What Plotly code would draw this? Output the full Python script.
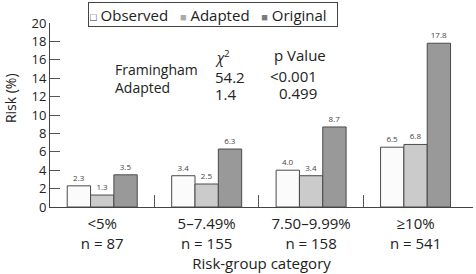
import plotly.graph_objects as go

categories = ["<5%<br>n = 87", "5–7.49%<br>n = 155", "7.50–9.99%<br>n = 158", "≥10%<br>n = 541"]
observed = [2.3, 3.4, 4.0, 6.5]
adapted = [1.3, 2.5, 3.4, 6.8]
original = [3.5, 6.3, 8.7, 17.8]

stat_rows = ["Framingham", "Adapted"]
chi2_vals = ["54.2", "1.4"]
p_vals = ["<0.001", "0.499"]

FONT = "Open Sans"
TXT = "#222222"
OUTLINE = "#4a4a4a"

series = [("Observed", observed, "#fbfbfb", "#333333", "□"),
          ("Adapted", adapted, "#cbcbcb", "#aaaaaa", "■"),
          ("Original", original, "#999999", "#7a7a7a", "■")]

fig = go.Figure()
for name, vals, col, _, _ in series:
    fig.add_trace(go.Bar(
        x=categories, y=vals, name=name,
        marker=dict(color=col, line=dict(color=OUTLINE, width=1)),
        text=[f"{v:.1f}" for v in vals], textposition="outside",
        textfont=dict(size=8, color="#444444", family=FONT),
        cliponaxis=False, showlegend=False,
    ))

# invisible trace to carry the boundary-tick axis
fig.add_trace(go.Scatter(x=[0], y=[0], xaxis="x2", mode="markers",
                         marker=dict(opacity=0), showlegend=False, hoverinfo="skip"))

xr = [-0.5, 3.55]
fig.update_layout(
    width=476, height=274,
    margin=dict(l=50, r=3, t=23, b=67, autoexpand=False),
    paper_bgcolor="white", plot_bgcolor="white",
    font=dict(family=FONT, color=TXT),
    barmode="group", bargap=0.33, bargroupgap=0,
    hovermode=False,
    xaxis=dict(type="category", range=xr, ticks="", showline=True, linecolor="#444444",
               linewidth=1, tickfont=dict(size=15, color=TXT), showgrid=False, automargin=False,
               ticklabelstandoff=3,
               title=dict(text="Risk-group category", font=dict(size=15, color=TXT), standoff=2)),
    xaxis2=dict(overlaying="x", range=xr, tickvals=[0.5, 1.5, 2.5, 3.55], ticks="inside",
                ticklen=12, tickcolor="#555555", showticklabels=False, showgrid=False,
                zeroline=False, showline=False, side="bottom", anchor="y", automargin=False),
    yaxis=dict(range=[0, 20], dtick=2, ticks="inside", ticklen=10, tickcolor="#555555",
               showline=True, linecolor="#444444", linewidth=1, showgrid=False, zeroline=False,
               tickfont=dict(size=13, color=TXT), automargin=False),
)

# legend box (drawn as a bordered annotation)
NB = "\u00a0"
parts = []
for name, _, _, glyph_col, glyph in series:
    parts.append(f"<span style='font-size:11px;color:{glyph_col}'>{glyph}</span>{NB}{name}")
legend_text = (NB * 3).join(parts)
fig.add_annotation(text=legend_text, xref="paper", yref="paper", x=0.09, y=1.114,
                   xanchor="left", yanchor="top", align="left", showarrow=False,
                   width=246, height=21, valign="middle",
                   bordercolor="#444444", borderwidth=1, borderpad=1, bgcolor="white",
                   font=dict(size=15, color=TXT))

fig.add_annotation(text="Risk (%)", textangle=-90, xref="paper", yref="paper",
                   x=-0.093, y=0.59, xanchor="center", yanchor="middle", showarrow=False,
                   font=dict(size=14, color=TXT))

# statistics table
label_y = [14.9, 13.0]
chi_y = [14.1, 12.3]
p_y = [14.2, 12.4]
fig.add_annotation(text="<i>χ</i><sup>2</sup>", xref="paper", yref="y", x=0.386, y=16.3,
                   xanchor="left", yanchor="middle", showarrow=False, font=dict(size=14))
fig.add_annotation(text="p Value", xref="paper", yref="y", x=0.524, y=16.5,
                   xanchor="left", yanchor="middle", showarrow=False, font=dict(size=15))
for i in range(2):
    fig.add_annotation(text=stat_rows[i], xref="paper", yref="y", x=0.149, y=label_y[i],
                       xanchor="left", yanchor="middle", showarrow=False, font=dict(size=14))
    fig.add_annotation(text=chi2_vals[i], xref="paper", yref="y", x=0.386, y=chi_y[i],
                       xanchor="left", yanchor="middle", showarrow=False, font=dict(size=15))
    fig.add_annotation(text=p_vals[i], xref="paper", yref="y", x=0.636, y=p_y[i],
                       xanchor="right", yanchor="middle", showarrow=False, font=dict(size=15))

fig.write_html("out.html", config={"displayModeBar": False},
               post_script="document.body.style.margin='0';")
